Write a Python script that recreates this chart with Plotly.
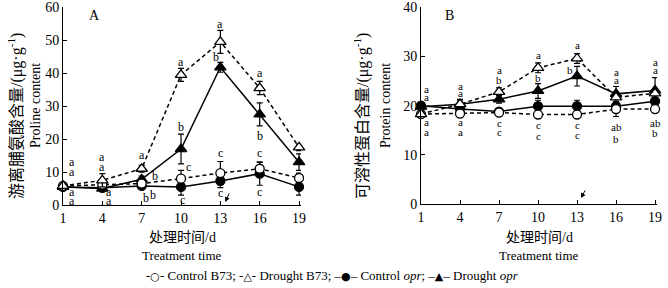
import plotly.graph_objects as go

days = [1, 4, 7, 10, 13, 16, 19]
x_ticks = [1, 4, 7, 10, 13, 16, 19]

# Panel A: proline content (ug/g)
a_ctrl_b73 = [5.8, 6.2, 6.5, 8.0, 9.7, 11.0, 8.2]
a_ctrl_b73_err = [0.5, 1.0, 0.8, 2.5, 3.5, 2.0, 1.5]
a_drt_b73 = [5.8, 7.5, 11.0, 39.5, 49.5, 35.5, 17.5]
a_drt_b73_err = [0.5, 2.0, 1.0, 2.0, 3.5, 2.0, 1.0]
a_ctrl_opr = [5.5, 5.2, 5.8, 5.5, 7.3, 9.5, 5.5]
a_ctrl_opr_err = [0.5, 0.5, 0.8, 2.5, 2.0, 3.5, 2.5]
a_drt_opr = [5.5, 5.0, 7.8, 17.0, 41.8, 27.5, 13.0]
a_drt_opr_err = [0.5, 0.5, 1.0, 4.5, 1.5, 3.5, 2.5]

# Panel B: soluble protein content (ug/g)
b_ctrl_b73 = [18.3, 18.4, 18.6, 18.2, 18.2, 19.3, 19.3]
b_ctrl_b73_err = [0.3, 0.5, 0.3, 0.8, 0.8, 1.5, 0.5]
b_drt_b73 = [18.3, 20.3, 22.8, 27.7, 29.6, 21.7, 22.5]
b_drt_b73_err = [0.5, 0.8, 0.8, 1.0, 1.0, 1.0, 0.8]
b_ctrl_opr = [20.0, 19.3, 18.8, 19.9, 19.9, 19.9, 20.9]
b_ctrl_opr_err = [0.5, 1.0, 0.5, 1.2, 1.2, 0.8, 0.8]
b_drt_opr = [19.8, 20.3, 21.3, 23.0, 26.0, 22.4, 23.1]
b_drt_opr_err = [0.5, 1.0, 0.8, 1.5, 2.0, 1.5, 2.6]

# significance letters (x, y, letter)
a_letters_x = [1.7, 1.7, 1.7, 1.7, 4, 4, 4.5, 4.5, 7, 8.0, 7.3, 7.9,
               10, 10, 10.6, 10.1, 13, 12.65, 13, 13, 16, 16, 16, 16,
               19.65, 19.65, 19.65, 19.65]
a_letters_y = [13, 10, 3.9, 1.2, 14.5, 11.5, 3.9, 1.2, 15.2, 8.8, 2.1, 2.9,
               43.5, 23.8, 11.5, 1.6, 55, 45, 15.8, 3.6, 40, 21, 15.8, 4,
               18, 12.8, 8.5, 5.5]
a_letters_t = ['a', 'a', 'a', 'a', 'a', 'a', 'a', 'a', 'a', 'b', 'b', 'b',
               'a', 'b', 'c', 'c', 'a', 'b', 'c', 'c', 'a', 'b', 'c', 'c',
               'a', 'b', 'c', 'c']

b_letters_x = [1.45, 1.45, 1.45, 1.45, 4, 4, 4, 4, 7, 7, 7, 7,
               10, 10, 10, 10, 13, 12.45, 13, 13, 16, 16, 16, 16,
               19, 19, 19, 19]
b_letters_y = [23.3, 21.8, 16.6, 14.6, 24.1, 22.6, 16.6, 14.6, 27.2, 25.2, 16.5, 14.7,
               30.4, 25.7, 16.1, 13.9, 32.3, 27.2, 16.1, 14.0, 26.8, 25.2, 15.6, 13.3,
               28.8, 27.2, 16.4, 14.4]
b_letters_t = ['a', 'a', 'a', 'a', 'a', 'a', 'a', 'a', 'a', 'b', 'c', 'c',
               'a', 'b', 'c', 'c', 'a', 'b', 'c', 'c', 'a', 'a', 'ab', 'b',
               'a', 'a', 'ab', 'b']

SYM = '<span style="font-family:DejaVu Sans;font-size:11px">{}</span>'
legend_text = ("-" + SYM.format("○") + "- Control B73; "
               "-" + SYM.format("△") + "- Drought B73; "
               "–" + SYM.format("●") + "– Control <i>opr</i>; "
               "–" + SYM.format("▲") + "– Drought <i>opr</i>")

FONT = "Liberation Serif, Times New Roman, Noto Sans CJK SC, serif"
BLACK = "#000000"

series = [
    ("Control opr", "solid", "circle", a_ctrl_opr, a_ctrl_opr_err, b_ctrl_opr, b_ctrl_opr_err),
    ("Drought opr", "solid", "triangle-up", a_drt_opr, a_drt_opr_err, b_drt_opr, b_drt_opr_err),
    ("Control B73", "dash", "circle-open", a_ctrl_b73, a_ctrl_b73_err, b_ctrl_b73, b_ctrl_b73_err),
    ("Drought B73", "dash", "triangle-up-open", a_drt_b73, a_drt_b73_err, b_drt_b73, b_drt_b73_err),
]

fig = go.Figure()
for name, dash, sym, av, ae, bv, be in series:
    filled = not sym.endswith("open")
    msym = sym.replace("-open", "")
    marker = dict(symbol=msym, size=9 if "circle" in sym else 10,
                  color=BLACK if filled else "white",
                  line=dict(color=BLACK, width=1.3))
    for axn, vals, err in (("", av, ae), ("2", bv, be)):
        fig.add_trace(go.Scatter(
            x=days, y=vals, mode="lines+markers", name=name,
            xaxis="x" + axn, yaxis="y" + axn,
            line=dict(color=BLACK, width=1.5, dash="4px,3px" if dash == "dash" else "solid"),
            marker=marker,
            error_y=dict(type="data", array=err, visible=True, color=BLACK, thickness=1.2, width=3),
            cliponaxis=False,
            showlegend=False,
        ))

annotations = []
for xs, ys, ts, axn, fs in ((a_letters_x, a_letters_y, a_letters_t, "", 12),
                            (b_letters_x, b_letters_y, b_letters_t, "2", 11)):
    for xv, yv, tv in zip(xs, ys, ts):
        annotations.append(dict(x=xv, y=yv, xref="x" + axn, yref="y" + axn, text=tv,
                                showarrow=False, font=dict(size=fs, color=BLACK, family=FONT),
                                xanchor="center", yanchor="middle"))

# panel labels
annotations.append(dict(x=3.4, y=57.5, xref="x", yref="y", text="A", showarrow=False,
                        font=dict(size=14, color=BLACK, family=FONT)))
annotations.append(dict(x=3.2, y=38.3, xref="x2", yref="y2", text="B", showarrow=False,
                        font=dict(size=14, color=BLACK, family=FONT)))
# arrows
annotations.append(dict(x=13.37, y=0.9, ax=13.9, ay=5.5, xref="x", yref="y", axref="x", ayref="y",
                        text=" ", showarrow=True, arrowhead=2, arrowsize=1, arrowwidth=1, arrowcolor=BLACK))
annotations.append(dict(x=13.3, y=1.2, ax=13.85, ay=3.9, xref="x2", yref="y2", axref="x2", ayref="y2",
                        text=" ", showarrow=True, arrowhead=2, arrowsize=1, arrowwidth=1, arrowcolor=BLACK))

W, H = 668, 288
def px(x):
    return x / W
def py(y):
    return 1 - y / H

# axis titles
for cx, txt in ((15, "游离脯氨酸含量/(μg·g<sup>-1</sup>)"), (361, "可溶性蛋白含量/(μg·g<sup>-1</sup>)")):
    annotations.append(dict(x=px(cx), y=py(116), xref="paper", yref="paper", text=txt, textangle=-90,
                            showarrow=False, font=dict(size=16, color=BLACK, family=FONT),
                            xanchor="center", yanchor="middle"))
for cx, txt in ((35, "Proline content"), (385, "Protein content")):
    annotations.append(dict(x=px(cx), y=py(106), xref="paper", yref="paper", text=txt, textangle=-90,
                            showarrow=False, font=dict(size=14, color=BLACK, family=FONT),
                            xanchor="center", yanchor="middle"))
for cx in (182, 539):
    annotations.append(dict(x=px(cx), y=py(237), xref="paper", yref="paper", text="处理时间/d",
                            showarrow=False, font=dict(size=14, color=BLACK, family=FONT),
                            xanchor="center", yanchor="middle"))
    annotations.append(dict(x=px(cx), y=py(255), xref="paper", yref="paper", text="Treatment time",
                            showarrow=False, font=dict(size=13, color=BLACK, family=FONT),
                            xanchor="center", yanchor="middle"))
# legend (custom, one line)
annotations.append(dict(x=px(332), y=py(275), xref="paper", yref="paper", text=legend_text,
                        showarrow=False, font=dict(size=13, color=BLACK, family=FONT),
                        xanchor="center", yanchor="middle"))

xaxis_common = dict(range=[1, 19.15], tickvals=x_ticks, ticks="inside", ticklen=4, tickwidth=1,
                    tickcolor=BLACK, showline=True, linecolor=BLACK, linewidth=1, showgrid=False,
                    zeroline=False, tickfont=dict(size=14, color=BLACK, family=FONT))
yaxis_common = dict(ticks="inside", ticklen=4, tickwidth=1, tickcolor=BLACK, showline=True,
                    linecolor=BLACK, linewidth=1, showgrid=False, zeroline=False,
                    tickfont=dict(size=14, color=BLACK, family=FONT))

fig.update_layout(
    width=W, height=H,
    margin=dict(l=0, r=0, t=0, b=0, autoexpand=False),
    paper_bgcolor="white", plot_bgcolor="white",
    font=dict(family=FONT, color=BLACK),
    showlegend=False,
    xaxis=dict(xaxis_common, domain=[px(63), px(301)], anchor="y"),
    yaxis=dict(yaxis_common, domain=[py(205), py(7)], range=[0, 60.1], tickvals=[0, 10, 20, 30, 40, 50, 60], anchor="x"),
    xaxis2=dict(xaxis_common, domain=[px(421), px(657)], anchor="y2"),
    yaxis2=dict(yaxis_common, domain=[py(204), py(7)], range=[0, 40.07], tickvals=[0, 10, 20, 30, 40], anchor="x2"),
    annotations=annotations,
)

fig.write_html("out.html", config={"displayModeBar": False},
               post_script="document.body.style.margin='0';document.body.style.padding='0';")
